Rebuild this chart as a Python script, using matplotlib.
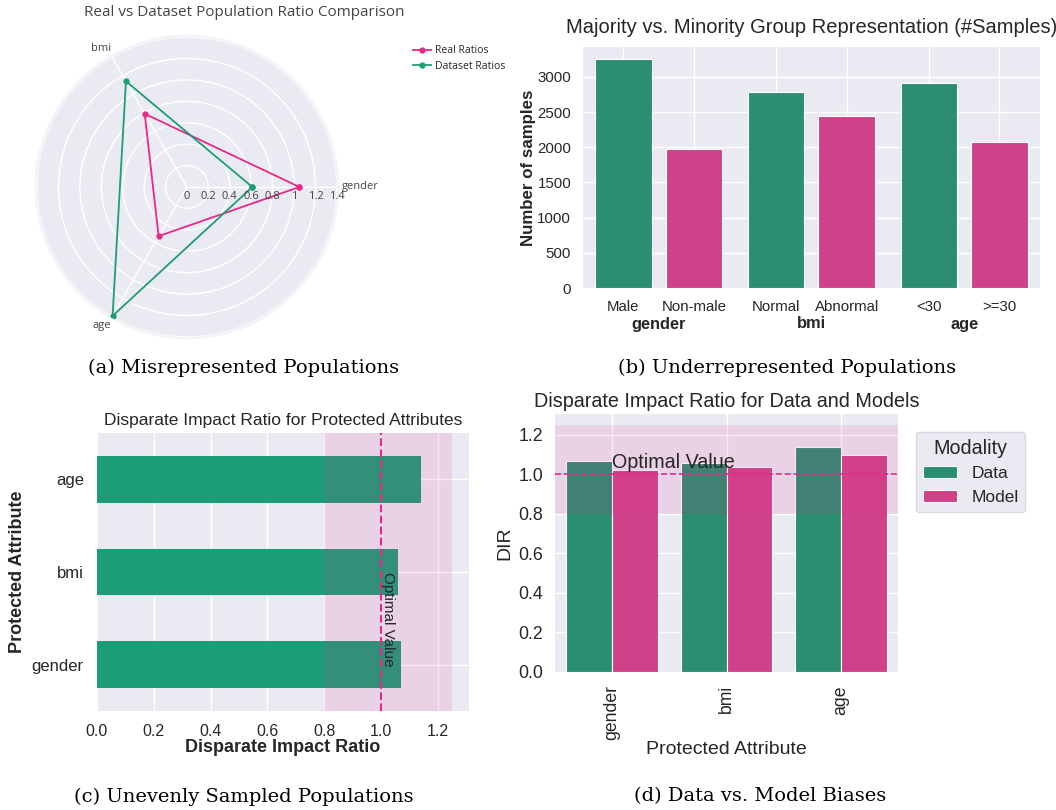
import numpy as np
import matplotlib
matplotlib.use('Agg')
import matplotlib.pyplot as plt
from matplotlib.transforms import ScaledTranslation, blended_transform_factory

W, H = 1056, 810

# (a) radar: real vs dataset population ratios
radar_attrs = ['gender', 'bmi', 'age']
real_ratios = [1.05, 0.79, 0.53]
dataset_ratios = [0.61, 1.14, 1.39]
radar_ticks = [0, 0.2, 0.4, 0.6, 0.8, 1, 1.2, 1.4]

# (b) majority vs minority sample counts
groups = ['gender', 'bmi', 'age']
majority_labels = ['Male', 'Normal', '<30']
minority_labels = ['Non-male', 'Abnormal', '>=30']
majority_counts = [3250, 2787, 2910]
minority_counts = [1975, 2442, 2078]

# (c) / (d) disparate impact ratio
dir_attrs = ['gender', 'bmi', 'age']
dir_data = [1.07, 1.06, 1.14]
dir_model = [1.02, 1.04, 1.10]

TEAL = '#1b9e77'
PINK = '#e7298a'
TEAL_S = '#2b8e70'   # seaborn-desaturated versions
PINK_S = '#cf4189'
BG = '#EAEAF2'

plt.rcParams.update({
    'font.family': ['Liberation Sans', 'DejaVu Sans'],
    'axes.facecolor': BG,
    'axes.edgecolor': 'white',
    'axes.grid': True,
    'axes.axisbelow': True,
    'grid.color': 'white',
    'grid.linewidth': 1.0,
    'xtick.bottom': False,
    'ytick.left': False,
    'text.color': '.15',
    'axes.labelcolor': '.15',
    'xtick.color': '.15',
    'ytick.color': '.15',
})

fig = plt.figure(figsize=(W / 100, H / 100), dpi=100)


def px_axes(l, t, r, b, **kw):
    ax = fig.add_axes([l / W, 1 - b / H, (r - l) / W, (b - t) / H], **kw)
    return ax


def no_spines(ax):
    for s in ax.spines.values():
        s.set_visible(False)


# ---------------- (a) radar ----------------
ax = px_axes(36, 36, 338, 338, projection='polar')
theta = np.arange(len(radar_attrs)) * 2 * np.pi / len(radar_attrs)
th_closed = np.append(theta, theta[0])
ax.plot(th_closed, real_ratios + real_ratios[:1], color=PINK, marker='o', ms=3.5,
        lw=1.3, label='Real Ratios', zorder=3)
ax.plot(th_closed, dataset_ratios + dataset_ratios[:1], color=TEAL, marker='o', ms=3.5,
        lw=1.3, label='Dataset Ratios', zorder=3)
ax.set_ylim(0, 1.41)
ax.set_yticks(radar_ticks[1:])
ax.set_yticklabels([])
ax.set_xticks(theta)
ax.set_xticklabels([])
ax.grid(color='white', lw=1)
ax.spines['polar'].set_color('#f4f4f8')
ax.spines['polar'].set_linewidth(2)
off = ax.transData + ScaledTranslation(0, -3 / 72, fig.dpi_scale_trans)
for v in radar_ticks:
    ax.text(0, v, f'{v:g}', ha='center', va='top', fontsize=8, family='Open Sans',
            color='#444444', transform=off, zorder=4)
ax.text(theta[0], 1.45, radar_attrs[0], ha='left', va='center', fontsize=8,
        family='Open Sans', color='#444444', clip_on=False)
for t, name in zip(theta[1:], radar_attrs[1:]):
    ax.text(t + 0.03 * np.sign(np.sin(t)), 1.52, name, ha='center', va='center', fontsize=8,
            family='Open Sans', color='#444444', clip_on=False)
ax.legend(loc='upper left', bbox_to_anchor=(404 / W, 1 - 36 / H),
          bbox_transform=fig.transFigure, frameon=False,
          handlelength=1.7, handletextpad=0.4, labelspacing=0.45,
          prop={'family': 'Open Sans', 'size': 7.5})
fig.text(244 / W, 1 - 13 / H, 'Real vs Dataset Population Ratio Comparison',
         ha='center', va='center', fontsize=11, family='Open Sans', color='#444444')

# ---------------- (b) majority vs minority ----------------
ax = px_axes(583, 47, 1040, 288)
no_spines(ax)
gstep = 2.166
maj_pos = [g * gstep for g in range(len(groups))]
min_pos = [g * gstep + 1 for g in range(len(groups))]
ax.bar(maj_pos, majority_counts, width=0.8, color=TEAL_S, edgecolor='white', lw=0.8)
ax.bar(min_pos, minority_counts, width=0.8, color=PINK_S, edgecolor='white', lw=0.8)
ax.set_xlim(-0.574, 5.908)
ax.set_ylim(0, 3425)
ticks = []
labels = []
for p1, p2, l1, l2 in zip(maj_pos, min_pos, majority_labels, minority_labels):
    ticks += [p1, p2]
    labels += [l1, l2]
ax.set_xticks(ticks)
ax.set_xticklabels(labels, fontsize=10.8)
ax.set_yticks(range(0, 3001, 500))
ax.tick_params(axis='y', labelsize=10.8, pad=5)
ax.tick_params(axis='x', pad=5)
trans = blended_transform_factory(ax.transData, ax.transAxes)
for p, g in zip(maj_pos, groups):
    ax.text(p + 0.5, -36 / 241, g, ha='center', va='center', fontsize=11.8,
            fontweight='bold', transform=trans)
ax.set_ylabel('Number of samples', fontsize=12.2, fontweight='bold', va='center')
ax.yaxis.set_label_coords((528.5 - 583) / (1040 - 583), 0.5)
ax.set_title('Majority vs. Minority Group Representation (#Samples)', fontsize=14.5, pad=10)

# ---------------- (c) DIR for protected attributes ----------------
ax = px_axes(97, 433, 469, 711)
no_spines(ax)
ypos = np.arange(len(dir_attrs))
ax.barh(ypos, dir_data, height=0.5, color=TEAL, zorder=2)
ax.axvspan(0.8, 1.25, color=PINK, alpha=0.12, lw=0, zorder=3)
ax.axvline(1.0, color=PINK, ls='--', lw=1.5, zorder=4)
ax.text(1.0, 1.0, 'Optimal Value', rotation=-90, ha='left', va='top', fontsize=11, zorder=5)
ax.set_xlim(0, 1.31)
ax.set_ylim(-0.5, 2.5)
ax.set_yticks(ypos)
ax.set_yticklabels(dir_attrs, fontsize=12)
ax.set_xticks(np.arange(0, 1.21, 0.2))
ax.tick_params(axis='x', labelsize=11.5, pad=6)
ax.tick_params(axis='y', pad=6)
ax.set_xlabel('Disparate Impact Ratio', fontsize=13, fontweight='bold', va='center')
ax.xaxis.set_label_coords(0.5, -(748 - 711) / (711 - 433))
ax.set_ylabel('Protected Attribute', fontsize=13, fontweight='bold', va='center')
ax.yaxis.set_label_coords((18 - 97) / (469 - 97), 0.5)
ax.set_title('Disparate Impact Ratio for Protected Attributes', fontsize=12.5, pad=6)

# ---------------- (d) data vs model ----------------
ax = px_axes(555, 414, 898, 672)
no_spines(ax)
xpos = np.arange(len(dir_attrs))
ax.bar(xpos - 0.2, dir_data, width=0.4, color=TEAL_S, edgecolor='white', lw=0.8,
       label='Data', zorder=2)
ax.bar(xpos + 0.2, dir_model, width=0.4, color=PINK_S, edgecolor='white', lw=0.8,
       label='Model', zorder=2)
ax.axhspan(0.8, 1.25, color=PINK, alpha=0.12, lw=0, zorder=3)
ax.axhline(1.0, color=PINK, ls='--', lw=1.2, zorder=4)
ax.text(0, 1.035, 'Optimal Value', ha='left', va='baseline', fontsize=14.2, zorder=5)
ax.set_xlim(-0.5, 2.5)
ax.set_ylim(0, 1.306)
ax.set_xticks(xpos)
ax.set_xticklabels(dir_attrs, rotation=90, fontsize=12.7)
ax.set_yticks(np.arange(0, 1.21, 0.2))
ax.tick_params(axis='y', labelsize=12.8, pad=5)
ax.tick_params(axis='x', pad=6)
ax.set_xlabel('Protected Attribute', fontsize=14, va='center')
ax.xaxis.set_label_coords((726 - 555) / (898 - 555), -(749 - 672) / (672 - 414))
ax.set_ylabel('DIR', fontsize=14, va='center')
ax.yaxis.set_label_coords((505 - 555) / (898 - 555), 0.5)
ax.set_title('Disparate Impact Ratio for Data and Models', fontsize=14.2, pad=5)
leg = ax.legend(title='Modality', loc='upper left', bbox_to_anchor=(907 / W, 1 - 423 / H),
                bbox_transform=fig.transFigure, fontsize=12.5, title_fontsize=14.2,
                facecolor=BG, edgecolor='#d8d8e0', framealpha=1)

# ---------------- captions ----------------
cap = dict(ha='center', va='center', fontsize=14, family='DejaVu Serif', color='black')
fig.text(244 / W, 1 - 368 / H, '(a) Misrepresented Populations', **cap)
fig.text(787 / W, 1 - 368 / H, '(b) Underrepresented Populations', **cap)
fig.text(244 / W, 1 - 797 / H, '(c) Unevenly Sampled Populations', **cap)
fig.text(760 / W, 1 - 796 / H, '(d) Data vs. Model Biases', **cap)

fig.savefig('out.png', dpi=100)
